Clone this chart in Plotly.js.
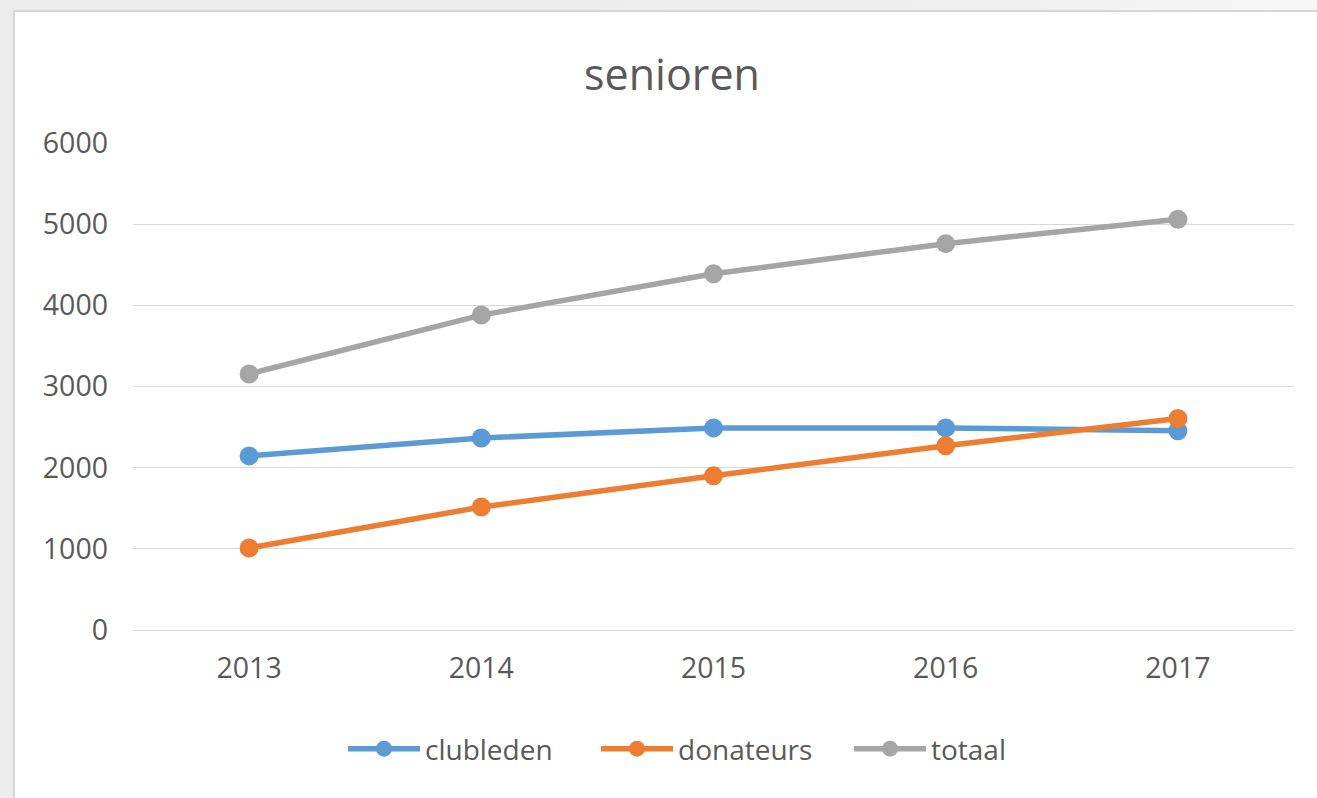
<!DOCTYPE html>
<html>
<head>
<meta charset="utf-8">
<script src="https://cdn.plot.ly/plotly-3.0.1.min.js"></script>
<style>
  html, body { margin:0; padding:0; width:1317px; height:798px; overflow:hidden;
    background: linear-gradient(100deg, #ececec 0%, #efefef 70%, #fbfbfb 100%); }
  #frame { position:absolute; left:13px; top:10px; width:1304px; height:788px;
    border-left:2px solid #d6d6d6; border-top:2px solid #d6d6d6; background:#fff; }
  #chart { position:absolute; left:0; top:0; width:1302px; height:786px; }
</style>
</head>
<body>
<div id="frame"><div id="chart"></div></div>
<script>
const years = ['2013', '2014', '2015', '2016', '2017'];
const clubleden = [2145, 2365, 2490, 2490, 2455];
const donateurs = [1010, 1515, 1900, 2270, 2605];
const totaal = [3155, 3880, 4390, 4760, 5060];
const yTicks = [0, 1000, 2000, 3000, 4000, 5000, 6000];

const FONT = 'Open Sans, Liberation Sans, sans-serif';
const TXT = '#595959';

function series(name, y, color) {
  return {
    type: 'scatter', mode: 'lines+markers', name: name,
    x: years, y: y,
    line: { color: color, width: 5.5 },
    marker: { color: color, size: 19 }
  };
}

const data = [
  series('clubleden', clubleden, '#5B9BD5'),
  series('donateurs', donateurs, '#ED7D31'),
  series('totaal', totaal, '#A5A5A5')
];

const layout = {
  width: 1302, height: 786,
  margin: { l: 118, r: 23, t: 131, b: 168 },
  paper_bgcolor: '#ffffff', plot_bgcolor: '#ffffff',
  font: { family: FONT, color: TXT, size: 28 },
  title: { text: 'senioren', font: { family: FONT, size: 43, color: TXT },
           x: (672 - 15) / 1302, xanchor: 'center', xref: 'container',
           y: 1 - (75 - 12) / 786, yanchor: 'middle', yref: 'container' },
  xaxis: {
    type: 'category', range: [-0.5, 4.5], showgrid: false, zeroline: false,
    showline: false, ticks: '', ticklabelstandoff: 18,
    tickfont: { family: FONT, size: 28.5, color: TXT }, fixedrange: true
  },
  yaxis: {
    range: [0, 6000], tickvals: yTicks, ticktext: yTicks.map(String),
    showgrid: true, gridcolor: '#d9d9d9', gridwidth: 1,
    zeroline: true, zerolinecolor: '#d9d9d9', zerolinewidth: 1,
    showline: false, ticks: '', ticklabelstandoff: 24,
    tickfont: { family: FONT, size: 28.5, color: TXT }, fixedrange: true
  },
  showlegend: true,
  legend: {
    orientation: 'h', x: (343 - 15) / 1302, xanchor: 'left', xref: 'container',
    y: 1 - (749 - 12) / 786, yanchor: 'middle', yref: 'container',
    itemwidth: 72, entrywidth: 166, entrywidthmode: 'pixels',
    font: { family: FONT, size: 28, color: TXT },
    bgcolor: 'rgba(0,0,0,0)', tracegroupgap: 0
  },
  hovermode: false
};

Plotly.newPlot('chart', data, layout, { displayModeBar: false, staticPlot: true });
</script>
</body>
</html>
